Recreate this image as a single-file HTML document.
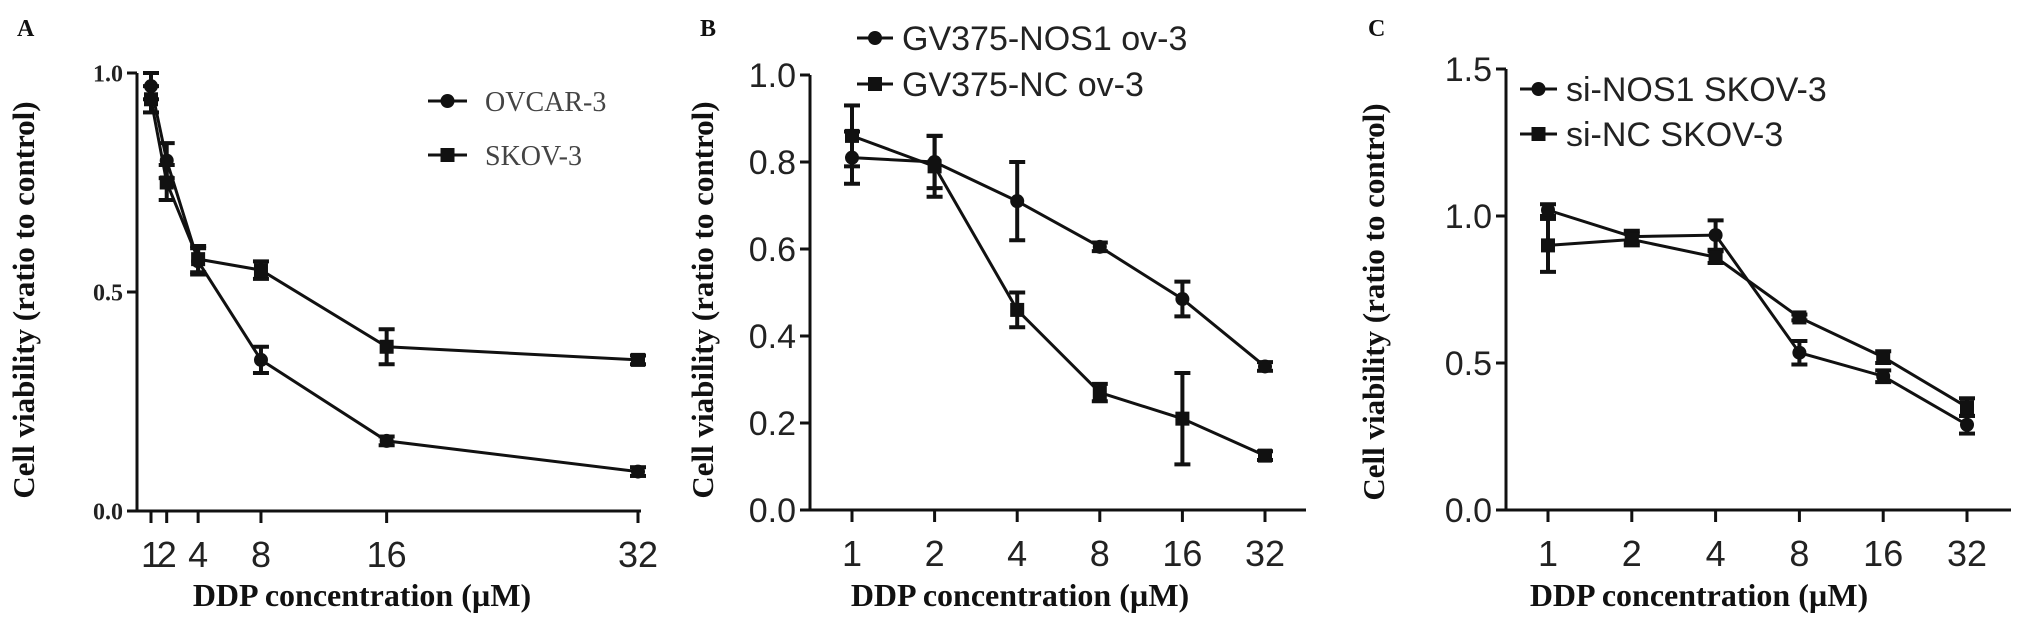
<!DOCTYPE html>
<html><head><meta charset="utf-8">
<style>
html,body{margin:0;padding:0;background:#fff;}
svg{display:block;}
</style></head>
<body>
<svg id="fig" width="2031" height="631" viewBox="0 0 2031 631" xmlns="http://www.w3.org/2000/svg"></svg>
<script>
// ---- Panel A data (linear x) ----
const aConc = [1, 2, 4, 8, 16, 32];
const aTickLabels = ["1", "2", "4", "8", "16", "32"];
const aOvcar = [0.97, 0.80, 0.57, 0.345, 0.16, 0.09];
const aOvcarErr = [0.03, 0.04, 0.03, 0.03, 0.01, 0.01];
const aSkov = [0.94, 0.75, 0.575, 0.55, 0.375, 0.345];
const aSkovErr = [0.03, 0.04, 0.03, 0.02, 0.04, 0.01];
const aYTicks = [0.0, 0.5, 1.0];
const aYTickLabels = ["0.0", "0.5", "1.0"];
// ---- Panel B data (categorical x) ----
const bCats = ["1", "2", "4", "8", "16", "32"];
const bNos1 = [0.81, 0.80, 0.71, 0.605, 0.485, 0.33];
const bNos1Err = [0.06, 0.06, 0.09, 0.01, 0.04, 0.01];
const bNc = [0.86, 0.79, 0.46, 0.27, 0.21, 0.125];
const bNcErr = [0.07, 0.07, 0.04, 0.02, 0.105, 0.01];
const bYTicks = [0.0, 0.2, 0.4, 0.6, 0.8, 1.0];
const bYTickLabels = ["0.0", "0.2", "0.4", "0.6", "0.8", "1.0"];
// ---- Panel C data (categorical x) ----
const cCats = ["1", "2", "4", "8", "16", "32"];
const cNos1 = [1.02, 0.93, 0.935, 0.535, 0.455, 0.29];
const cNos1Err = [0.02, 0.02, 0.05, 0.04, 0.02, 0.03];
const cNc = [0.90, 0.92, 0.86, 0.655, 0.52, 0.35];
const cNcErr = [0.09, 0.02, 0.02, 0.01, 0.02, 0.03];
const cYTicks = [0.0, 0.5, 1.0, 1.5];
const cYTickLabels = ["0.0", "0.5", "1.0", "1.5"];

const NS = "http://www.w3.org/2000/svg";
const svg = document.getElementById('fig');
function mk(tag, attrs, parent, text) {
  const e = document.createElementNS(NS, tag);
  for (const k in attrs) e.setAttribute(k, attrs[k]);
  if (text !== undefined) e.textContent = text;
  (parent || svg).appendChild(e);
  return e;
}
const SERIF = '"Liberation Serif", serif';
const SANS = '"Liberation Sans", sans-serif';

function marker(g, kind, x, y, r) {
  if (kind === 'circle') return mk('circle', {cx: x, cy: y, r: r || 7, fill: '#111'}, g);
  const s = (r || 7);
  return mk('rect', {x: x - s, y: y - s, width: 2 * s, height: 2 * s, fill: '#111'}, g);
}

function panel(o) {
  const g = mk('g', {});
  
  
  const yS = v => o.y0 - (v - o.ymin) / (o.ymax - o.ymin) * (o.y0 - o.y1);
  const xS = i => o.xf(i);
  const ax = mk('g', {stroke: '#111', 'stroke-width': 3, fill: 'none'}, g);
  
  
  mk('line', {x1: o.ax, y1: o.y1, x2: o.ax, y2: o.y0 + 1.5}, ax);
  mk('line', {x1: o.ax - 6, y1: o.y0, x2: o.xEnd, y2: o.y0}, ax);
  o.yTicks.forEach((v, i) => {
    mk('line', {x1: o.ax - 10, y1: yS(v), x2: o.ax, y2: yS(v)}, ax);
    const t = mk('text', {x: o.ax - 14, y: yS(v) + o.yFs * 0.36, 'text-anchor': 'end', 'font-family': o.yFont, 'font-size': o.yFs, 'font-weight': o.yBold ? 'bold' : 'normal', fill: '#222', stroke: 'none'}, g, o.yLabels[i]);
    
    
  });
  o.xLabels.forEach((lab, i) => {
    const x = xS(i);
    mk('line', {x1: x, y1: o.y0, x2: x, y2: o.y0 + 12}, ax);
    const t = mk('text', {x: x, y: o.y0 + 56, 'text-anchor': 'middle', 'font-family': SANS, 'font-size': 36, fill: '#222'}, g, lab);
    
    
  });
  const xt = mk('text', {x: o.xTitleX, y: 606, 'text-anchor': 'middle', 'font-family': SERIF, 'font-size': 32, 'font-weight': 'bold', fill: '#111'}, g, 'DDP concentration (\u00b5M)');
  
  
  const yt = mk('text', {x: 0, y: 0, 'text-anchor': 'middle', 'font-family': SERIF, 'font-size': 31, 'font-weight': 'bold', fill: '#111', transform: `translate(${o.yTitleX},${o.yTitleY}) rotate(-90)`}, g, 'Cell viability (ratio to control)');
  
  
  const pl = mk('text', {x: o.letterX, y: 36, 'font-family': SERIF, 'font-size': 24, 'font-weight': 'bold', fill: '#111'}, g, o.letter);
  
  
  o.series.forEach(s => {
    const sg = mk('g', {}, g);
    
    
    const pts = s.vals.map((v, i) => xS(i) + ',' + yS(v)).join(' ');
    mk('polyline', {points: pts, fill: 'none', stroke: '#111', 'stroke-width': 3}, sg);
    s.vals.forEach((v, i) => {
      const x = xS(i), e = s.err[i];
      const eb = mk('g', {stroke: '#111', 'stroke-width': 4}, sg);
      
      
      mk('line', {x1: x, y1: yS(v + e), x2: x, y2: yS(v - e)}, eb);
      mk('line', {x1: x - 8, y1: yS(v + e), x2: x + 8, y2: yS(v + e)}, eb);
      mk('line', {x1: x - 8, y1: yS(v - e), x2: x + 8, y2: yS(v - e)}, eb);
      const m = marker(sg, s.kind, x, yS(v), 7);
      
      
    });
  });
  o.legend.forEach(L => {
    const lg = mk('g', {}, g);
    
    
    mk('line', {x1: L.x1, y1: L.y, x2: L.x2, y2: L.y, stroke: '#111', 'stroke-width': 3}, lg);
    marker(lg, L.kind, (L.x1 + L.x2) / 2, L.y, 7);
    mk('text', {x: L.tx, y: L.y + L.fs * 0.36, 'font-family': L.font, 'font-size': L.fs, fill: L.color}, lg, L.text);
  });
}

panel({
  name: 'panel-a', letter: 'A', letterX: 17,
  ax: 137, y0: 511, y1: 73, ymin: 0, ymax: 1.0, xEnd: 641,
  xf: i => 151 + (aConc[i] - 1) * (638 - 151) / 31,
  xLabels: aTickLabels, yTicks: aYTicks, yLabels: aYTickLabels,
  yFont: SERIF, yFs: 24, yBold: true,
  xTitleX: 362, yTitleX: 34, yTitleY: 300,
  series: [
    {name: 'series-ovcar-3', kind: 'circle', vals: aOvcar, err: aOvcarErr},
    {name: 'series-skov-3', kind: 'square', vals: aSkov, err: aSkovErr}
  ],
  legend: [
    {x1: 428, x2: 467, y: 101, tx: 485, text: 'OVCAR-3', font: SERIF, fs: 28, color: '#444', kind: 'circle'},
    {x1: 428, x2: 467, y: 155, tx: 485, text: 'SKOV-3', font: SERIF, fs: 28, color: '#444', kind: 'square'}
  ]
});
panel({
  name: 'panel-b', letter: 'B', letterX: 700,
  ax: 810, y0: 510, y1: 75, ymin: 0, ymax: 1.0, xEnd: 1306,
  xf: i => 852 + i * 82.6,
  xLabels: bCats, yTicks: bYTicks, yLabels: bYTickLabels,
  yFont: SANS, yFs: 34, yBold: false,
  xTitleX: 1020, yTitleX: 713, yTitleY: 300,
  series: [
    {name: 'series-gv375-nos1', kind: 'circle', vals: bNos1, err: bNos1Err},
    {name: 'series-gv375-nc', kind: 'square', vals: bNc, err: bNcErr}
  ],
  legend: [
    {x1: 857, x2: 893, y: 38, tx: 902, text: 'GV375-NOS1 ov-3', font: SANS, fs: 34, color: '#222', kind: 'circle'},
    {x1: 857, x2: 893, y: 84, tx: 902, text: 'GV375-NC ov-3', font: SANS, fs: 34, color: '#222', kind: 'square'}
  ]
});
panel({
  name: 'panel-c', letter: 'C', letterX: 1368,
  ax: 1506, y0: 510, y1: 69, ymin: 0, ymax: 1.5, xEnd: 2011,
  xf: i => 1548 + i * 83.8,
  xLabels: cCats, yTicks: cYTicks, yLabels: cYTickLabels,
  yFont: SANS, yFs: 34, yBold: false,
  xTitleX: 1699, yTitleX: 1384, yTitleY: 302,
  series: [
    {name: 'series-si-nos1', kind: 'circle', vals: cNos1, err: cNos1Err},
    {name: 'series-si-nc', kind: 'square', vals: cNc, err: cNcErr}
  ],
  legend: [
    {x1: 1520, x2: 1557, y: 89, tx: 1566, text: 'si-NOS1 SKOV-3', font: SANS, fs: 34, color: '#222', kind: 'circle'},
    {x1: 1520, x2: 1557, y: 134, tx: 1566, text: 'si-NC SKOV-3', font: SANS, fs: 34, color: '#222', kind: 'square'}
  ]
});
</script>
</body></html>
